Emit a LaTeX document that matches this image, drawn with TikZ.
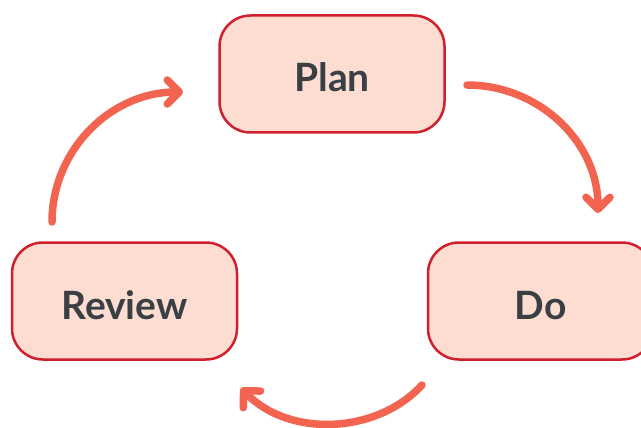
\documentclass[tikz,border=0pt]{standalone}
\usepackage{fontspec}
\setmainfont{Lato}
\usetikzlibrary{arrows.meta}
\definecolor{boxfill}{HTML}{FDDCD2}
\definecolor{boxline}{HTML}{D0202E}
\definecolor{arrowc}{HTML}{F26450}
\definecolor{textc}{HTML}{3A3F44}
\begin{document}
\begin{tikzpicture}[x=1pt,y=-1pt,
  stagebox/.style={draw=boxline, fill=boxfill, line width=2.5pt, rounded corners=31pt,
    minimum width=225pt, minimum height=117pt, inner sep=0pt,
    text height=36pt, text depth=0pt,
    font=\fontsize{39}{44}\selectfont\bfseries, text=textc},
  cyclearrow/.style={draw=arrowc, line width=7.5pt, line cap=round,
    -{Straight Barb[angle=90:17pt, round]}}]
\useasboundingbox (0,0) rectangle (641,428);
\node[stagebox] (plan) at (332,74) {Plan};
\node[stagebox] (do) at (540.5,301) {Do};
\node[stagebox] (review) at (124.5,301) {Review};
\coordinate (a1s) at (467,85);
\coordinate (a1e) at (598,213);
\coordinate (a2s) at (422,385);
\coordinate (a2e) at (241,388);
\coordinate (a3s) at (52,222);
\coordinate (a3e) at (183,92);
\draw[cyclearrow] (a1s) .. controls (539,85) and (598,142) .. (a1e);
\draw[cyclearrow] (a2s) .. controls (376,435) and (288,437) .. (a2e);
\draw[cyclearrow] (a3s) .. controls (52,150) and (111,92) .. (a3e);
\end{tikzpicture}
\end{document}
